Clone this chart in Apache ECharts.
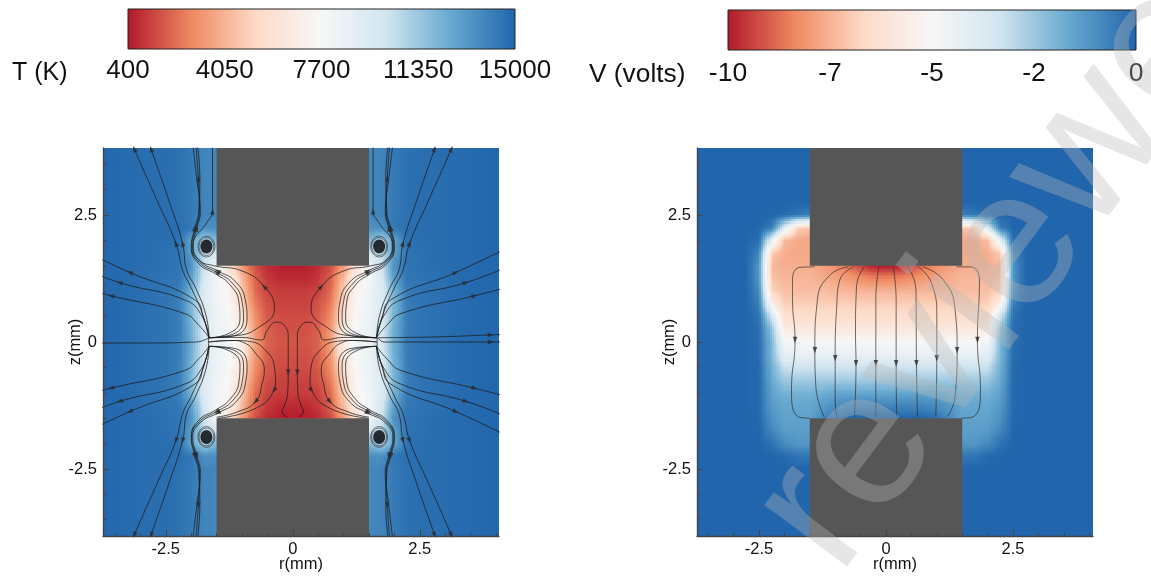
<!DOCTYPE html>
<html><head><meta charset="utf-8">
<style>html,body{margin:0;padding:0;background:#fff}#c{width:1151px;height:577px}</style>
<script src="https://cdn.jsdelivr.net/npm/echarts@6/dist/echarts.min.js"></script>
</head><body><div id="c"></div>
<script>
// ---------- values ----------
const colormap = ['#b2182b','#ef8a62','#fddbc7','#f7f7f7','#d1e5f0','#67a9cf','#2166ac'];
const tempBarLabels = ['400','4050','7700','11350','15000'];
const voltBarLabels = ['-10','-7','-5','-2','0'];
const tempRange = [400, 15000];
const voltRange = [-10, 0];
const tickLabels = [-2.5, 0, 2.5];
const minorTicks = [-3.5,-3,-2,-1.5,-1,-0.5,0.5,1,1.5,2,3,3.5,4];
const electrodes = [[-1.5,1.5,1.5,4],[-1.5,-4,1.5,-1.5]];
const vortices = [[-1.7,1.88],[1.7,1.88],[-1.7,-1.87],[1.7,-1.87]];

// |r| columns (mm)
const tempR = [0,.25,.5,.75,1,1.25,1.5,1.75,2,2.25,2.5,2.75,3.25,4.25];
// z rows (mm), mirrored below z = 0
const tempZ = [0,.25,.5,.75,1,1.25,1.5,1.75,2,2.25,2.5,2.75,4];
const tempK = [
 [1700,1700,2000,3500,6800,8000,8500,9800,12500,14200,14500,14600,14800,15000],
 [1600,1600,1900,3300,6500,7900,8400,9700,12400,14200,14500,14600,14800,15000],
 [1500,1500,1800,3000,5900,7800,8400,9500,12200,14200,14500,14600,14800,15000],
 [1300,1300,1600,2600,5300,7600,8300,9400,12100,14200,14500,14600,14800,15000],
 [1200,1200,1300,2200,4800,7400,8200,9400,12200,14200,14500,14600,14800,15000],
 [ 800, 800,1100,2000,4300,7000,8000,9800,13000,14400,14500,14600,14800,15000],
 [ 500, 500, 800,1600,3400,5800,8000,10200,13500,14500,14600,14700,14800,15000],
 [10000,10000,10000,10000,10000,10000,10000,10500,13000,14500,14600,14700,14800,15000],
 [12000,12000,12000,12000,12000,12000,12000,11000,12800,14600,14700,14700,14800,15000],
 [13500,13500,13500,13500,13500,13500,13500,13500,14400,14700,14700,14700,14800,15000],
 [13800,13800,13800,13800,13800,13800,13800,13900,14300,14600,14700,14700,14800,15000],
 [13800,13800,13800,13800,13800,13800,13800,13900,14300,14600,14700,14700,14800,15000],
 [13800,13800,13800,13800,13800,13800,13800,13900,14300,14600,14700,14700,14800,15000]
];
const voltR = [0,.25,.5,.75,1,1.25,1.5,1.75,2,2.25,2.5,2.75,3,4.25];
const voltZ = [4,2.75,2.5,2.25,2,1.75,1.5,1.25,1,.75,.5,.25,0,-.25,-.5,-.75,-1,-1.25,-1.5,-1.75,-2,-2.25,-2.5,-2.75,-4];
const volts = [
 [0,0,0,0,0,0,0,0,0,0,0,0,0,0],
 [0,0,0,0,0,0,0,0,0,0,0,0,0,0],
 [-.6,-.6,-.6,-.6,-.6,-.6,-.6,-.4,-.1,0,0,0,0,0],
 [-7.2,-7.2,-7.2,-7.2,-7.2,-7.2,-7.2,-6.8,-3.8,-.6,0,0,0,0],
 [-7.7,-7.7,-7.7,-7.7,-7.7,-7.7,-7.7,-7.7,-7.3,-4.2,-.2,0,0,0],
 [-7.7,-7.7,-7.7,-7.7,-7.7,-7.7,-7.7,-7.7,-7.6,-7,-.8,0,0,0],
 [-10,-9.9,-9.4,-8.7,-8.2,-7.9,-7.6,-7.6,-7.6,-7.4,-1.2,0,0,0],
 [-8.4,-8.4,-8.2,-8,-7.8,-7.6,-7.4,-7.4,-7.4,-7.2,-1.2,0,0,0],
 [-7.5,-7.5,-7.5,-7.4,-7.4,-7.3,-7.3,-7.3,-7.2,-6.8,-.9,0,0,0],
 [-6.9,-6.9,-6.9,-6.9,-6.9,-6.9,-6.9,-6.9,-6.9,-5.5,-.6,0,0,0],
 [-6.5,-6.5,-6.5,-6.5,-6.5,-6.5,-6.5,-6.5,-6.3,-3.5,-.3,0,0,0],
 [-5.9,-5.9,-5.9,-5.9,-5.9,-5.9,-5.9,-5.9,-5.7,-2.4,-.2,0,0,0],
 [-5,-5,-5,-5,-5,-5,-5,-5,-4.8,-2.1,-.2,0,0,0],
 [-4.3,-4.3,-4.3,-4.3,-4.3,-4.3,-4.3,-4.3,-4.1,-2.1,-.15,0,0,0],
 [-3.3,-3.3,-3.3,-3.3,-3.3,-3.3,-3.3,-3.3,-3.2,-1.9,-.1,0,0,0],
 [-2.6,-2.6,-2.6,-2.6,-2.6,-2.6,-2.6,-2.6,-2.5,-1.7,-.1,0,0,0],
 [-1.6,-1.6,-1.6,-1.6,-1.6,-1.8,-1.9,-1.9,-1.9,-1.5,-.1,0,0,0],
 [-.8,-.8,-.8,-.8,-1,-1.3,-1.6,-1.6,-1.6,-1.3,-.1,0,0,0],
 [0,0,0,-.1,-.3,-.9,-1.5,-1.5,-1.5,-1.1,-.05,0,0,0],
 [-1.4,-1.4,-1.4,-1.4,-1.4,-1.4,-1.4,-1.4,-1.3,-.8,0,0,0,0],
 [-1.2,-1.2,-1.2,-1.2,-1.2,-1.2,-1.2,-1.2,-.9,-.3,0,0,0,0],
 [-.4,-.4,-.4,-.4,-.4,-.4,-.4,-.35,-.1,0,0,0,0,0],
 [0,0,0,0,0,0,0,0,0,0,0,0,0,0],
 [0,0,0,0,0,0,0,0,0,0,0,0,0,0],
 [0,0,0,0,0,0,0,0,0,0,0,0,0,0]
];

// streamlines, left panel: |r|, z in mm
const lineA1 = [[1.65,.085],[1.78,.56],[2.01,1.09],[2.17,1.42],[2.30,1.94],[2.66,2.76],[3.12,3.80],[3.15,3.9]];
const lineA2 = [[1.65,.085],[1.71,.53],[1.91,1.06],[2.09,1.42],[2.17,1.94],[2.43,2.76],[2.79,3.80],[2.82,3.9]];
const lineB1 = [[1.65,.085],[1.155,.125],[.90,.45],[.93,.80],[1.13,1.19],[1.48,1.40],[1.81,1.58],[1.97,1.88],[1.89,2.24],[1.82,2.57],[1.89,3.22],[1.97,3.9]];
const lineB2 = [[1.65,.085],[1.22,.14],[.97,.45],[1.0,.80],[1.19,1.16],[1.50,1.37],[1.83,1.56],[1.99,1.88],[1.91,2.24],[1.84,2.57],[1.86,3.22],[1.91,3.9]];
const lineB3 = [[1.65,.085],[1.28,.16],[1.04,.45],[1.06,.78],[1.24,1.13],[1.52,1.34],[1.85,1.54],[2.0,1.88],[1.93,2.24],[1.85,2.57],[1.83,3.22],[1.88,3.9]];
const lineC  = [[1.65,.085],[1.15,.12],[.70,.27],[.36,.66],[.56,1.09],[1.0,1.40],[1.54,1.50],[1.85,1.62],[1.96,1.90],[1.68,2.37],[1.58,2.57],[1.58,3.9]];
const lineO1 = [[1.65,.085],[1.75,.45],[1.93,.83],[3.21,1.37],[4.2,1.84]];
const lineO2 = [[1.65,.085],[1.80,.53],[2.13,.83],[3.41,1.17],[4.2,1.47]];
const lineO3 = [[1.65,.085],[1.85,.33],[2.13,.56],[3.58,.91],[4.2,1.07]];
const lineE  = [[1.65,.085],[1.0,.09],[.62,.04],[.5,.24],[.33,.39],[.17,.33],[.09,.08],[.09,-.25],[.09,-.6],[.10,-1.0],[.16,-1.24],[.21,-1.38],[.12,-1.47]];
const lineF  = [[1.65,.0],[1.15,.03],[.85,.01],[.55,-.15],[.36,-.5],[.34,-.8],[.37,-.95],[.72,-1.3],[1.47,-1.5]];
const lineG  = [[1.65,.0],[1.2,.03],[.95,-.02],[.75,-.2],[.56,-.55],[.6,-.8],[.73,-1.17],[1.1,-1.38],[1.5,-1.48]];
const lineHa = [[1.68,.085],[2.8,.10],[3.9,.14],[4.2,.15]];
const lineHb = [[1.68,.085],[1.80,.0],[3.9,.0],[4.2,.0]];
const lineHc = [[-1.65,.085],[-1.9,.0],[-3.0,-.02],[-3.9,-.02]];
const lineStag = [[1.66,.085],[1.66,-.085]];
// streamlines, right panel: r, z in mm
const vLines = [
 [[-1.40,1.48],[-1.69,1.47],[-1.84,1.22],[-1.84,.83],[-1.79,.04],[-1.86,-.94],[-1.73,-1.47],[-1.50,-1.50]],
 [[-.74,1.48],[-1.10,1.32],[-1.35,.83],[-1.40,-.16],[-1.38,-.88],[-1.22,-1.47]],
 [[-.64,1.48],[-.91,1.22],[-.97,.70],[-1.0,-.32],[-1.0,-1.14],[-.97,-1.47]],
 [[-.43,1.48],[-.58,1.09],[-.60,.17],[-.59,-.42],[-.62,-1.47]],
 [[-.14,1.48],[-.20,.83],[-.20,-.42],[-.20,-1.47]],
 [[.14,1.48],[.20,.83],[.20,-.42],[.21,-1.47]],
 [[.43,1.48],[.59,1.02],[.60,-.42],[.62,-1.47]],
 [[.64,1.48],[.90,1.15],[1.0,.5],[1.0,-.32],[.98,-1.47]],
 [[.73,1.48],[1.13,1.22],[1.36,.63],[1.40,-.16],[1.36,-1.08],[1.21,-1.47]],
 [[1.39,1.48],[1.65,1.48],[1.84,1.22],[1.80,.04],[1.86,-.94],[1.72,-1.47],[1.49,-1.50]]
];
const vArrowVertex = [4,3,3,3,2,2,2,3,3,3];

// ---------- helpers ----------
const FONT = '"Liberation Sans", Arial, sans-serif';
const parsed = colormap.map(h => [1,3,5].map(k => parseInt(h.substr(k,2),16)));
function colorOf(n){
  n = Math.max(0, Math.min(1, n)) * (parsed.length - 1);
  const i = Math.min(parsed.length - 2, Math.floor(n)), f = n - i, a = parsed[i], b = parsed[i+1];
  return 'rgb(' + a.map((v,k) => Math.round(v + (b[k]-v)*f)).join(',') + ')';
}
const norm = (v,range) => (v-range[0])/(range[1]-range[0]);

// grid corners -> one datum per cell: r0,z0,r1,z1 and the four corner values
function cells(rAbs, zs, rows){
  const r = rAbs.slice(1).reverse().map(x => -x).concat(rAbs);
  const at = (row,i) => row[Math.abs(i - (rAbs.length-1))];
  const out = [];
  for (let j=0;j<zs.length-1;j++) for (let i=0;i<r.length-1;i++)
    out.push([r[i],zs[j],r[i+1],zs[j+1],at(rows[j],i),at(rows[j],i+1),at(rows[j+1],i),at(rows[j+1],i+1)]);
  return out;
}
// Each cell is painted with a colour ramp between its corner readings.
function fieldSeries(data, range, axis){
  return {type:'custom', xAxisIndex:axis, yAxisIndex:axis, data, clip:true, silent:true, z:1, progressive:0,
    encode:{x:[0,2],y:[1,3]}, animation:false,
    renderItem(p, api){
      const v = [0,1,2,3,4,5,6,7].map(k => api.value(k));
      const A = api.coord([v[0],v[1]]), B = api.coord([v[2],v[3]]);
      const vals = v.slice(4,8), same = Math.max(...vals)-Math.min(...vals) < (range[1]-range[0])*0.004;
      const nx = same ? 1 : Math.max(1,Math.round(Math.abs(B[0]-A[0])/2));
      const ny = same ? 1 : Math.max(1,Math.round(Math.abs(B[1]-A[1])/2));
      const kids = [];
      for (let b=0;b<ny;b++) for (let a=0;a<nx;a++){
        const x0=Math.round(A[0]+(B[0]-A[0])*a/nx), x1=Math.round(A[0]+(B[0]-A[0])*(a+1)/nx);
        const y0=Math.round(A[1]+(B[1]-A[1])*b/ny), y1=Math.round(A[1]+(B[1]-A[1])*(b+1)/ny);
        const u=(a+.5)/nx, w=(b+.5)/ny;
        const val=(vals[0]*(1-u)+vals[1]*u)*(1-w)+(vals[2]*(1-u)+vals[3]*u)*w;
        kids.push({type:'rect',shape:{x:x0,y:Math.min(y0,y1),width:x1-x0,height:Math.abs(y1-y0)},style:{fill:colorOf(norm(val,range))}});
      }
      return {type:'group',children:kids};
    }};
}
function electrodeSeries(axis){
  return {type:'custom', xAxisIndex:axis, yAxisIndex:axis, data:electrodes, clip:true, silent:true, z:2,
    encode:{x:[0,2],y:[1,3]}, animation:false,
    renderItem(p, api){
      const A=api.coord([api.value(0),api.value(3)]), B=api.coord([api.value(2),api.value(1)]);
      return {type:'rect',shape:{x:A[0],y:A[1],width:B[0]-A[0],height:B[1]-A[1]},style:{fill:'#565656'}};
    }};
}
function lineSeries(pts, axis, color, w){
  return {type:'line', xAxisIndex:axis, yAxisIndex:axis, data:pts, smooth:true, symbol:'none', silent:true, z:3,
    clip:true, animation:false, lineStyle:{color:color||'#1c1c1c', width:w||.9, opacity:.85}};
}
function arrowItem(pts, k){
  const a=pts[Math.max(0,k-1)], b=pts[Math.min(pts.length-1,k+1)];
  return {value:pts[k], symbolRotate:Math.atan2(b[1]-a[1],b[0]-a[0])*180/Math.PI-90};
}
function arrowSeries(items, axis){
  return {type:'scatter', xAxisIndex:axis, yAxisIndex:axis, data:items, symbol:'triangle', symbolSize:[4.5,6.5], silent:true,
    z:4, clip:true, animation:false, itemStyle:{color:'#2b2b2b',opacity:.8}};
}
function barSeries(axis){
  const stops = colormap.map((color,i)=>({offset:i/(colormap.length-1),color}));
  return {type:'custom', xAxisIndex:axis, yAxisIndex:axis, data:[[0,0,4,1]], silent:true, animation:false,
    encode:{x:[0,2],y:[1,3]},
    renderItem(p, api){
      const A=api.coord([api.value(0),api.value(3)]), B=api.coord([api.value(2),api.value(1)]);
      return {type:'rect',shape:{x:A[0],y:A[1],width:B[0]-A[0],height:B[1]-A[1]},
        style:{fill:new echarts.graphic.LinearGradient(0,0,1,0,stops),stroke:'#222',lineWidth:1}};
    }};
}

// ---------- assemble ----------
const tempRows = tempK.slice(1).reverse().concat(tempK);
const tempZFull = tempZ.slice(1).reverse().map(z=>-z).concat(tempZ);
const series = [
  fieldSeries(cells(tempR,tempZFull,tempRows), tempRange, 0),
  fieldSeries(cells(voltR,voltZ,volts), voltRange, 1),
  electrodeSeries(0), electrodeSeries(1)
];
const arrows = [];
function addMirrored(pts, idx, signsR, signsZ){
  signsR.forEach(sr => signsZ.forEach(sz => {
    const m = pts.map(p=>[p[0]*sr,p[1]*sz]);
    series.push(lineSeries(m,0));
    idx.forEach(k=>arrows.push(arrowItem(m,k)));
  }));
}
const both=[-1,1];
addMirrored(lineA1,[4,6],both,both);
addMirrored(lineA2,[4,6],both,both);
addMirrored(lineB1,[5,8],both,both);
addMirrored(lineB2,[5,10],both,both);
addMirrored(lineB3,[8],both,both);
addMirrored(lineO1,[3],both,both);
addMirrored(lineO2,[3],both,both);
addMirrored(lineO3,[3],both,both);
addMirrored(lineC,[4,10],both,[1]);
addMirrored(lineE,[8],both,[1]);
addMirrored(lineF,[6],both,[1]);
addMirrored(lineG,[6],both,[1]);
addMirrored(lineHa,[2],[1],[1]);
addMirrored(lineHb,[2],[1],[1]);
addMirrored(lineHc,[],[1],[1]);
addMirrored(lineStag,[],both,[1]);
series.push(arrowSeries(arrows,0));
const vArrows=[];
vLines.forEach((l,i)=>{series.push(lineSeries(l,1,'#2a2a2a',.8));vArrows.push(arrowItem(l,vArrowVertex[i]));});
series.push(arrowSeries(vArrows,1));
// vortex cores and the rings round them
[[17,21],[15,18]].forEach(size => series.push({type:'scatter',xAxisIndex:0,yAxisIndex:0,data:vortices,symbol:'circle',symbolSize:size,silent:true,z:3,animation:false,
  itemStyle:{color:'transparent',borderColor:'#333',borderWidth:.8}}));
series.push({type:'scatter',xAxisIndex:0,yAxisIndex:0,data:vortices,symbol:'circle',symbolSize:[12,14],silent:true,z:3,animation:false,
  itemStyle:{color:'#000'}});
series.push(barSeries(2),barSeries(3));

const tickColor='#444';
function mainX(grid,min,max){return {type:'value',gridIndex:grid,min,max,position:'bottom',z:6,splitLine:{show:false},
  axisLine:{show:true,onZero:false,lineStyle:{color:tickColor,width:1.4}},
  axisTick:{show:true,inside:true,length:6,customValues:tickLabels,lineStyle:{color:tickColor,width:1}},
  axisLabel:{customValues:tickLabels,color:'#111',fontSize:16.5,fontFamily:FONT,margin:5},
  name:'r(mm)',nameLocation:'middle',nameGap:20,nameMoveOverlap:false,nameTextStyle:{color:'#111',fontSize:16.5,fontFamily:FONT}};}
function minorX(grid,min,max){return {type:'value',gridIndex:grid,min,max,position:'bottom',z:6,splitLine:{show:false},
  axisLine:{show:false,onZero:false},axisLabel:{show:false,customValues:minorTicks},
  axisTick:{show:true,inside:true,length:3,customValues:minorTicks,lineStyle:{color:tickColor,width:1}}};}
function mainY(grid){return {type:'value',gridIndex:grid,min:-3.82,max:3.82,position:'left',z:6,splitLine:{show:false},
  axisLine:{show:true,onZero:false,lineStyle:{color:tickColor,width:1.4}},
  axisTick:{show:true,inside:true,length:6,customValues:tickLabels,lineStyle:{color:tickColor,width:1}},
  axisLabel:{customValues:tickLabels,color:'#111',fontSize:16.5,fontFamily:FONT,margin:6},
  name:'z(mm)',nameLocation:'middle',nameGap:19,nameRotate:90,nameMoveOverlap:false,nameTextStyle:{color:'#111',fontSize:16.5,fontFamily:FONT}};}
function minorY(grid){return {type:'value',gridIndex:grid,min:-3.82,max:3.82,position:'left',z:6,splitLine:{show:false},
  axisLine:{show:false,onZero:false},axisLabel:{show:false,customValues:minorTicks},
  axisTick:{show:true,inside:true,length:3,customValues:minorTicks,lineStyle:{color:tickColor,width:1}}};}
function barX(grid,labels,size,margin){return {type:'category',gridIndex:grid,data:labels,boundaryGap:false,axisLine:{show:false},axisTick:{show:false},
  splitLine:{show:false},axisLabel:{interval:0,color:'#111',fontSize:size,fontFamily:FONT,margin,showMinLabel:true,showMaxLabel:true,hideOverlap:false}};}
function barY(grid){return {type:'value',gridIndex:grid,min:0,max:1,show:false};}

const chart=echarts.init(document.getElementById('c'),null,{renderer:'canvas'});
chart.setOption({
  backgroundColor:'#fff',animation:false,
  title:[
    {text:'T (K)',left:7,top:56,textStyle:{fontSize:25,fontWeight:'normal',fontFamily:FONT,color:'#111'}},
    {text:'V (volts)',left:584,top:57,textStyle:{fontSize:26.3,fontWeight:'normal',fontFamily:FONT,color:'#111'}}
  ],
  grid:[
    {left:103,top:148,width:396,height:388,outerBoundsMode:'none'},
    {left:697,top:148,width:396,height:388,outerBoundsMode:'none'},
    {left:128,top:9,width:387,height:40,outerBoundsMode:'none'},
    {left:728,top:10,width:408,height:40,outerBoundsMode:'none'}
  ],
  // index order used by the series: 0 left, 1 right, 2 T bar, 3 V bar; minor tick axes follow
  xAxis:[mainX(0,-3.736,4.059),mainX(1,-3.72,4.075),barX(2,tempBarLabels,26,9),barX(3,voltBarLabels,26.5,10),minorX(0,-3.736,4.059),minorX(1,-3.72,4.075)],
  yAxis:[mainY(0),mainY(1),barY(2),barY(3),minorY(0),minorY(1)],
  series,
  graphic:[{type:'text',x:796,y:545,rotation:53.3*Math.PI/180,z:100,silent:true,
    style:{text:'reviewer',fontSize:195,fontFamily:FONT,fill:'rgba(184,184,184,0.35)',textAlign:'left',textVerticalAlign:'middle'}}]
});
</script></body></html>
